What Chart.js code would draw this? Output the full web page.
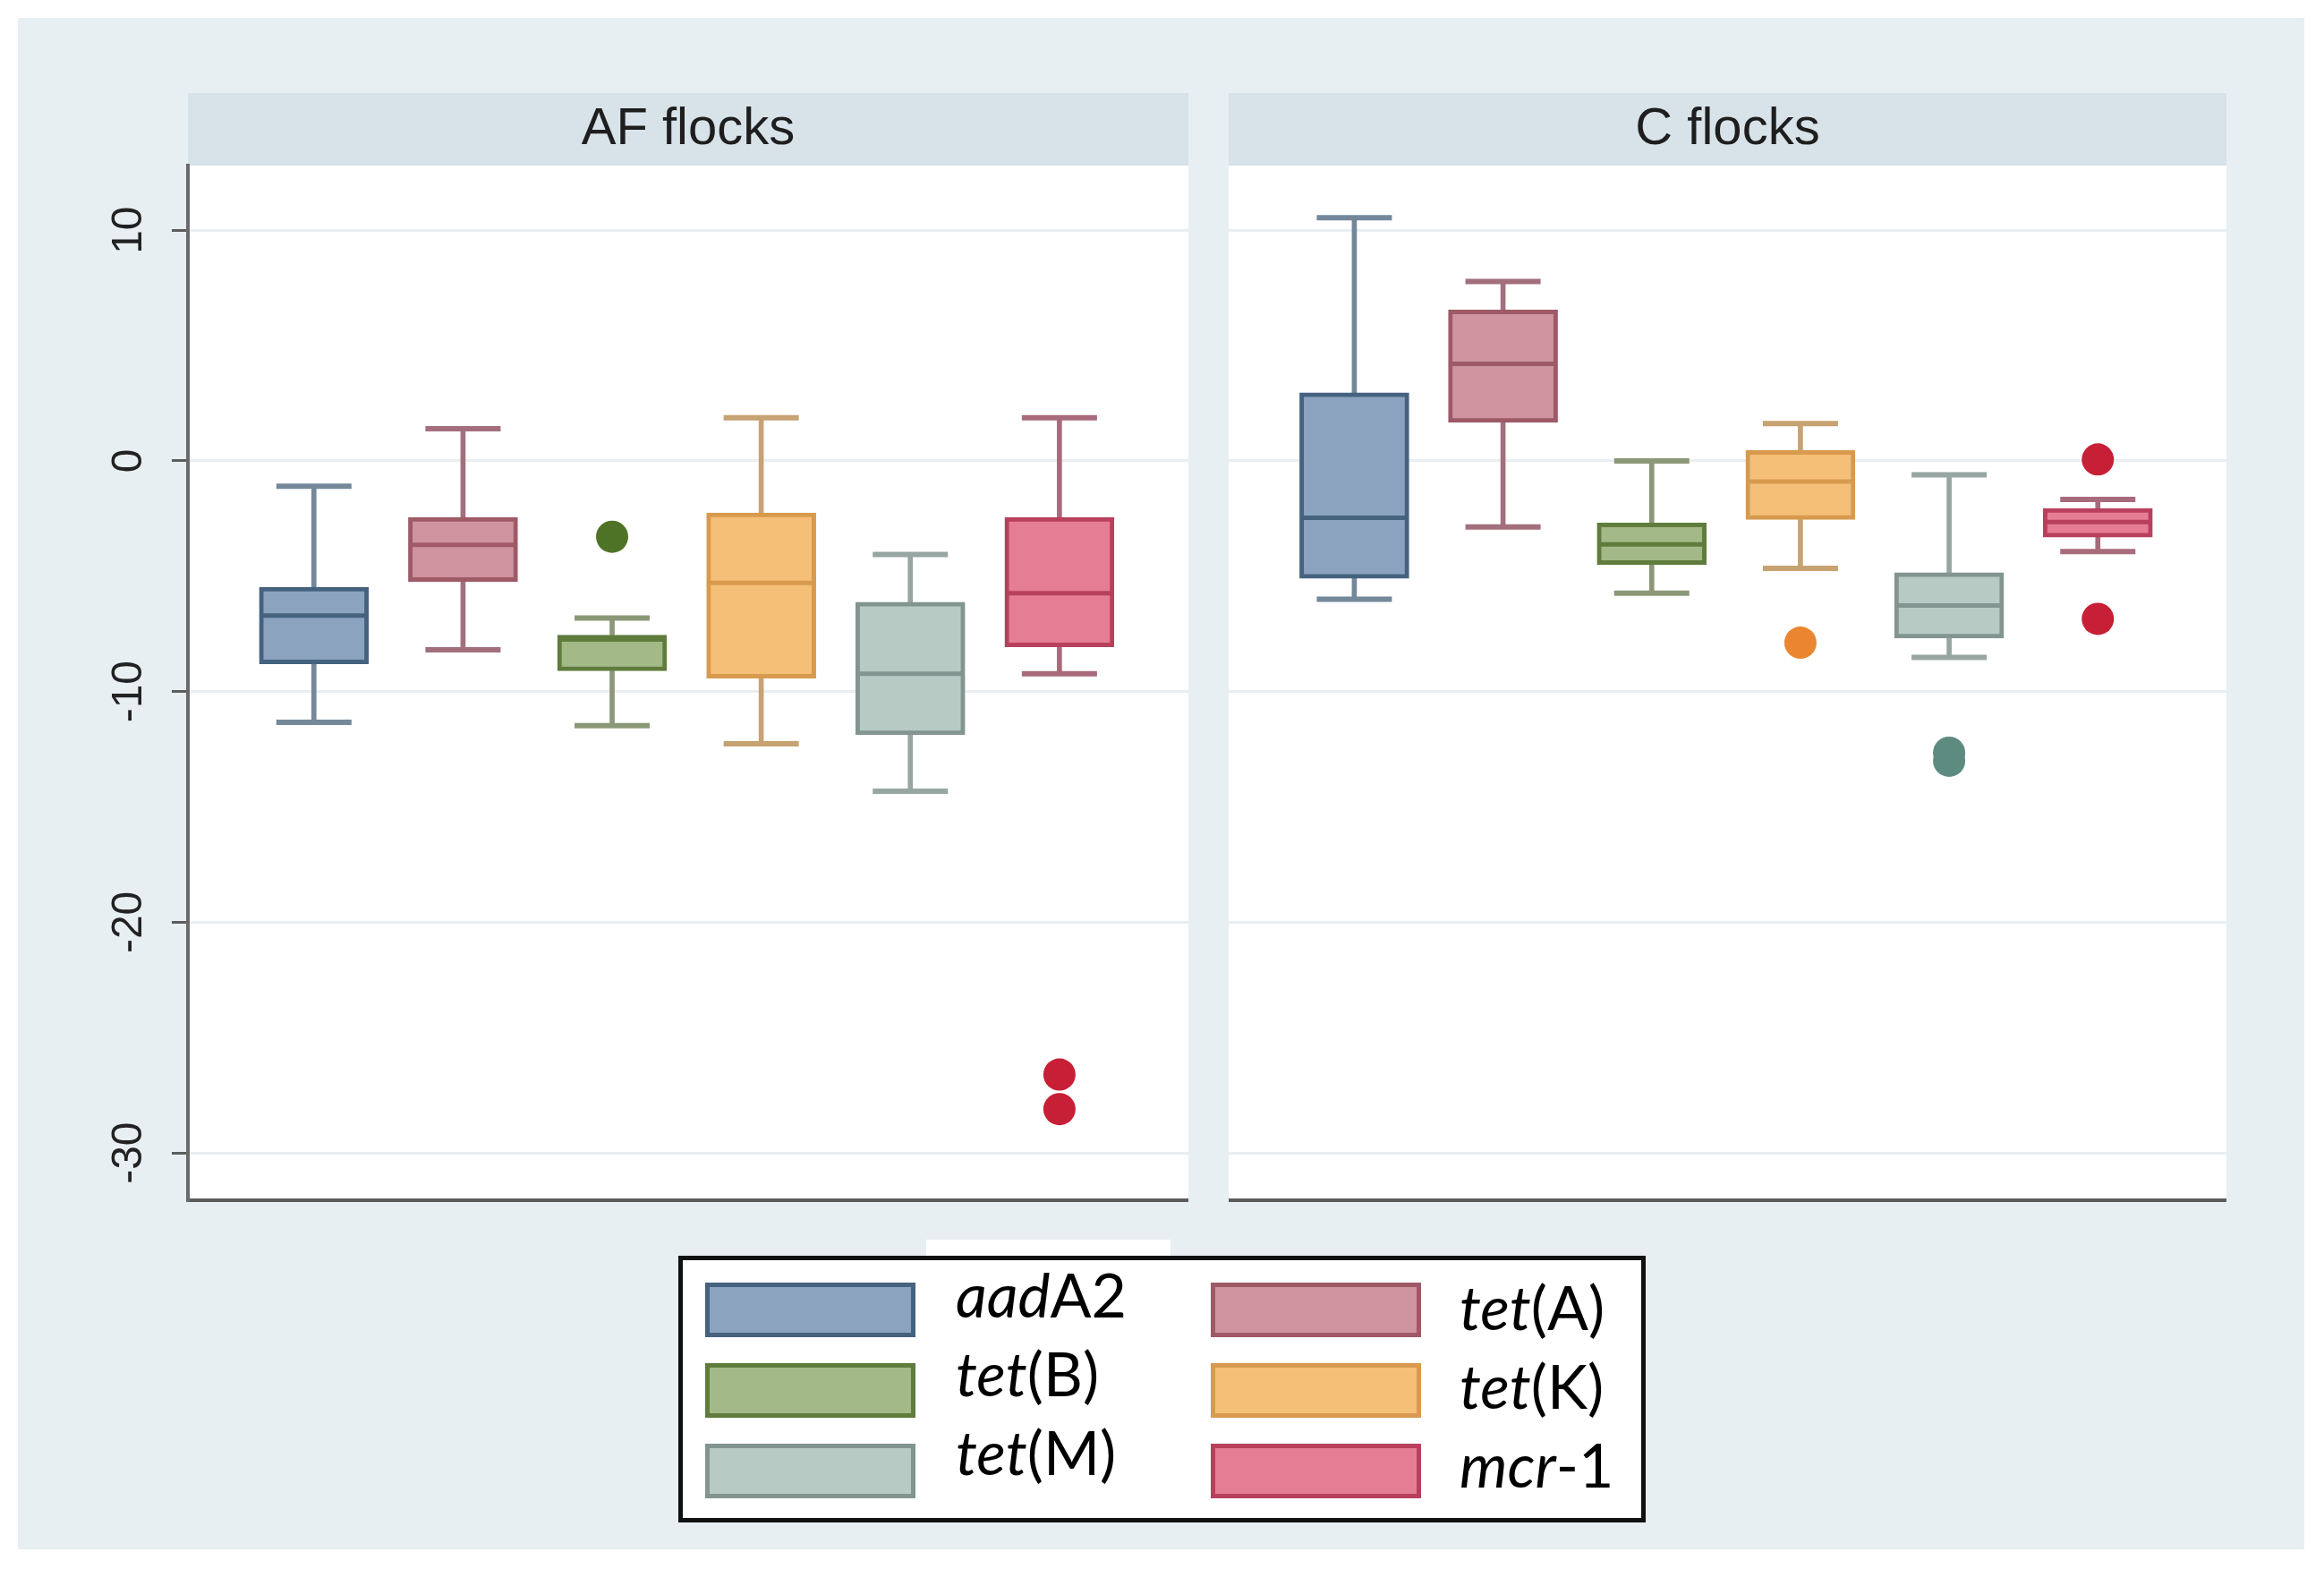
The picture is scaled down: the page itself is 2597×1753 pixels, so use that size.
<!DOCTYPE html>
<html>
<head>
<meta charset="utf-8">
<title>AF flocks / C flocks</title>
<script src="https://cdn.jsdelivr.net/npm/chart.js@4.4.1/dist/chart.umd.min.js"></script>
<style>
  body { margin: 0; width: 2597px; height: 1753px; background: #fff; position: relative; overflow: hidden; }
  #frame { position: absolute; left: 20px; top: 20px; width: 2555px; height: 1711px; background: #e8eff2; }
  canvas { position: absolute; top: 20px; }
  #afChart { left: 20px; }
  #cChart { left: 1373px; }
  #patch { position: absolute; left: 1035px; top: 1385px; width: 273px; height: 20px; background: #fff; }
  #legend { position: absolute; left: 758px; top: 1403px; width: 1081px; height: 298px; box-sizing: border-box; border: 5px solid #111; background: #fff; }
  .swatch { position: absolute; width: 235px; height: 61px; box-sizing: border-box; border: 5px solid; }
  .label { position: absolute; font-family: Lato, 'Open Sans', sans-serif; font-size: 68px; line-height: 1; color: #000; white-space: nowrap; }
</style>
</head>
<body>
<div id="frame"></div>
<canvas id="afChart" width="1308" height="1370"></canvas>
<canvas id="cChart" width="1115" height="1370"></canvas>
<div id="patch"></div>
<div id="legend"></div>

<script>
// values (y axis units)
const panels = ['AF flocks', 'C flocks'];
const genes = ['aadA2', 'tet(A)', 'tet(B)', 'tet(K)', 'tet(M)', 'mcr-1'];
const yTicks = [-30, -20, -10, 0, 10];

// AF flocks
const afMin    = [-11.33, -8.19, -11.48, -12.26, -14.32, -9.23];
const afQ1     = [-8.80, -5.23, -9.10, -9.42, -11.87, -8.06];
const afMedian = [-6.71, -3.64, -7.74, -5.29, -9.23, -5.74];
const afQ3     = [-5.48, -2.45, -7.55, -2.26, -6.13, -2.45];
const afMax    = [-1.10, 1.39, -6.81, 1.87, -4.06, 1.87];
const afOutliers = [[], [], [-3.29], [], [], [-26.6, -28.1]];

// C flocks
const cMin    = [-6.0, -2.86, -5.74, -4.66, -8.52, -3.93];
const cQ1     = [-5.09, 1.67, -4.49, -2.54, -7.68, -3.31];
const cMedian = [-2.47, 4.21, -3.62, -0.90, -6.27, -2.65];
const cQ3     = [2.95, 6.54, -2.69, 0.45, -4.85, -2.06];
const cMax    = [10.54, 7.78, 0.0, 1.62, -0.60, -1.67];
const cOutliers = [[], [], [], [-7.88], [-12.65, -13.0], [0.06, -6.85]];

// colours per gene
const boxFill  = ['#8ba3bf', '#cf94a0', '#a3b987', '#f6bf78', '#b7cac4', '#e57e95'];
const boxEdge  = ['#45627f', '#9e5a67', '#5f7c3c', '#d89a4e', '#829590', '#b8405c'];
const whisker  = ['#74889a', '#a36f7c', '#8b9878', '#c7a272', '#97a6a2', '#a86b7c'];
const outColor = ['#5e7ea0', '#b06a78', '#4f7326', '#e9862f', '#5e8b80', '#c71f35'];

const panelBackground = {
    id: 'panelBackground',
    beforeDraw(chart) {
        const {ctx, chartArea, titleBlock} = chart;
        ctx.save();
        ctx.fillStyle = '#ffffff';   // plot region
        ctx.fillRect(chartArea.left, chartArea.top, chartArea.width, chartArea.height);
        ctx.fillStyle = '#d8e2e9';   // strip behind panel title
        ctx.fillRect(chartArea.left, titleBlock.top, chartArea.width, titleBlock.bottom - titleBlock.top);
        ctx.restore();
    }
};

function boxplotChart(canvasId, title, lo, q1, med, q3, hi, outliers, showAxis) {
    const pos = genes.map((g, i) => i + 1);
    const pts = vals => vals.map((v, i) => ({x: pos[i], y: v}));

    const outPts = [];
    const outCols = [];
    outliers.forEach((list, i) => list.forEach(v => {
        outPts.push({x: pos[i], y: v});
        outCols.push(outColor[i]);
    }));

    return new Chart(document.getElementById(canvasId), {
        type: 'bar',
        data: {
            datasets: [
                {   // medians
                    type: 'scatter', order: 0, data: pts(med),
                    pointStyle: 'line', pointRadius: 58, pointBorderWidth: 5,
                    pointBorderColor: boxEdge, pointBackgroundColor: boxEdge
                },
                {   // whisker caps
                    type: 'scatter', order: 1, data: [...pts(hi), ...pts(lo)],
                    pointStyle: 'line', pointRadius: 42, pointBorderWidth: 6,
                    pointBorderColor: [...whisker, ...whisker], pointBackgroundColor: [...whisker, ...whisker]
                },
                {   // outside values
                    type: 'scatter', order: 2, data: outPts,
                    pointRadius: 18, pointBorderWidth: 0, pointBackgroundColor: outCols
                },
                {   // boxes q1..q3
                    type: 'bar', order: 3,
                    data: pos.map((x, i) => ({x, y: [q1[i], q3[i]]})),
                    backgroundColor: boxFill, borderColor: boxEdge, borderWidth: 5,
                    borderSkipped: false, barThickness: 122, grouped: false
                },
                {   // whiskers
                    type: 'bar', order: 4,
                    data: [...pos.map((x, i) => ({x, y: [lo[i], q1[i]]})),
                           ...pos.map((x, i) => ({x, y: [q3[i], hi[i]]}))],
                    backgroundColor: [...whisker, ...whisker], borderWidth: 0,
                    barThickness: 5, grouped: false
                }
            ]
        },
        options: {
            responsive: false,
            animation: false,
            events: [],
            layout: { autoPadding: false, padding: {top: 84, bottom: 45, left: 0, right: 0} },
            scales: {
                x: {
                    type: 'linear', min: 0.155, max: 6.865, offset: false,
                    ticks: { display: false },
                    grid: { display: false },
                    border: { display: true, color: '#5c5c5c', width: 4 },
                    afterFit: s => { s.height = 4; }
                },
                y: {
                    type: 'linear', min: -32.05, max: 12.8,
                    afterBuildTicks: s => { s.ticks = yTicks.map(v => ({value: v})); },
                    ticks: {
                        display: showAxis,
                        font: { family: "'Liberation Sans', Arial, sans-serif", size: 48 },
                        color: '#222',
                        minRotation: 90, maxRotation: 90,
                        crossAlign: 'center',
                        padding: 13
                    },
                    grid: {
                        color: '#e9eef1', lineWidth: 3,
                        drawTicks: showAxis, tickLength: 18, tickColor: '#5c5c5c', tickWidth: 3
                    },
                    border: { display: showAxis, color: '#6a6a6a', width: 4 },
                    afterFit: s => { s.width = showAxis ? 190 : 0; }
                }
            },
            plugins: {
                legend: { display: false },
                tooltip: { enabled: false },
                title: {
                    display: true,
                    text: title,
                    fullSize: false,
                    color: '#1e1e1e',
                    font: { family: "'Liberation Sans', Arial, sans-serif", size: 58, weight: 'normal', lineHeight: 1.2 },
                    padding: { top: 6, bottom: 5.4 }
                }
            }
        },
        plugins: [panelBackground]
    });
}

boxplotChart('afChart', panels[0], afMin, afQ1, afMedian, afQ3, afMax, afOutliers, true);
boxplotChart('cChart', panels[1], cMin, cQ1, cMedian, cQ3, cMax, cOutliers, false);

// legend: two columns, three rows; gene family prefix in italics
const legend = document.getElementById('legend');
genes.forEach((g, i) => {
    const col = i % 2;
    const row = Math.floor(i / 2);
    const sw = document.createElement('div');
    sw.className = 'swatch';
    sw.style.left = (col ? 590 : 25) + 'px';
    sw.style.top = (25 + row * 90) + 'px';
    sw.style.background = boxFill[i];
    sw.style.borderColor = boxEdge[i];
    legend.appendChild(sw);

    const m = g.match(/^([a-z]+)(.*)$/);
    const lab = document.createElement('div');
    lab.className = 'label';
    lab.style.left = (col ? 868 : 305) + 'px';
    lab.style.top = ((col ? 18 : 4) + row * 88) + 'px';
    const it = document.createElement('i');
    it.textContent = m[1];
    lab.appendChild(it);
    lab.appendChild(document.createTextNode(m[2]));
    legend.appendChild(lab);
});
</script>
</body>
</html>
